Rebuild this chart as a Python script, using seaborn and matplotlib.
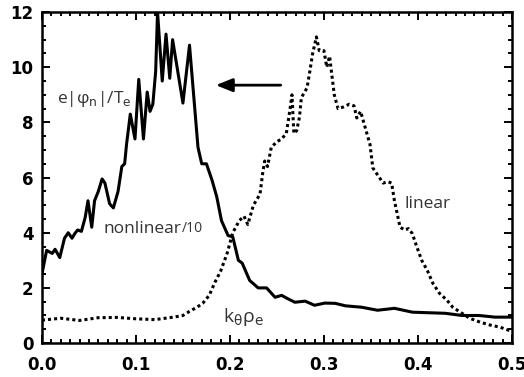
import matplotlib
matplotlib.use("Agg")
import matplotlib.pyplot as plt
from matplotlib.ticker import MultipleLocator
import seaborn as sns

# nonlinear spectrum (divided by 10)
nl_x = [0.000, 0.005, 0.011, 0.014, 0.019, 0.024, 0.028, 0.032, 0.035, 0.038,
        0.042, 0.046, 0.049, 0.053, 0.056, 0.060, 0.064, 0.067, 0.072, 0.076,
        0.081, 0.085, 0.088, 0.090, 0.094, 0.099, 0.103, 0.108, 0.112, 0.115,
        0.118, 0.121, 0.123, 0.128, 0.132, 0.136, 0.139, 0.150, 0.157, 0.166,
        0.170, 0.175, 0.181, 0.186, 0.191, 0.198, 0.203, 0.209, 0.213, 0.221,
        0.230, 0.239, 0.248, 0.255, 0.262, 0.269, 0.280, 0.290, 0.301, 0.312,
        0.323, 0.340, 0.357, 0.375, 0.394, 0.411, 0.429, 0.447, 0.465, 0.482,
        0.500]
nl_y = [2.5, 3.36, 3.25, 3.4, 3.1, 3.8, 4.0, 3.8, 3.97, 4.1,
        4.05, 4.55, 5.16, 4.2, 5.16, 5.5, 5.95, 5.8, 5.05, 4.9,
        5.5, 6.4, 6.5, 7.2, 8.3, 7.4, 9.56, 7.4, 9.1, 8.4,
        8.66, 9.85, 12.0, 9.5, 11.2, 9.6, 11.0, 8.7, 10.8, 7.1,
        6.5, 6.5, 5.9, 5.3, 4.44, 3.9, 3.85, 3.0, 2.9, 2.27,
        2.0, 2.0, 1.66, 1.73, 1.6, 1.48, 1.52, 1.37, 1.45, 1.44,
        1.35, 1.3, 1.19, 1.26, 1.12, 1.1, 1.08, 1.0, 1.0, 0.94,
        0.94]

# linear growth spectrum
lin_x = [0.000, 0.02, 0.04, 0.06, 0.08, 0.10, 0.12, 0.14, 0.15, 0.157,
         0.165, 0.171, 0.178, 0.184, 0.19, 0.197, 0.203, 0.21, 0.215, 0.219,
         0.225, 0.232, 0.235, 0.237, 0.240, 0.244, 0.250, 0.255, 0.260, 0.264,
         0.266, 0.268, 0.271, 0.274, 0.276, 0.282, 0.285, 0.288, 0.292, 0.295,
         0.300, 0.303, 0.306, 0.311, 0.315, 0.320, 0.327, 0.332, 0.335, 0.339,
         0.344, 0.349, 0.352, 0.357, 0.363, 0.368, 0.372, 0.375, 0.381, 0.386,
         0.390, 0.394, 0.399, 0.404, 0.410, 0.416, 0.423, 0.431, 0.437, 0.445,
         0.455, 0.466, 0.477, 0.487, 0.496, 0.500]
lin_y = [0.83, 0.9, 0.82, 0.92, 0.93, 0.88, 0.85, 0.94, 1.0, 1.15,
         1.3, 1.44, 1.73, 2.2, 2.6, 3.25, 4.0, 4.44, 4.6, 4.3,
         5.0, 5.4, 6.2, 6.6, 6.4, 7.1, 7.3, 7.4, 7.6, 8.5,
         9.0, 7.6, 7.7, 8.2, 8.9, 9.25, 9.85, 10.5, 11.1, 10.6,
         10.6, 10.0, 10.4, 9.0, 8.5, 8.55, 8.66, 8.6, 8.16, 8.4,
         7.8, 7.2, 6.35, 6.1, 5.8, 5.85, 5.8, 5.16, 4.2, 4.1,
         4.15, 3.97, 3.47, 3.0, 2.63, 2.16, 1.8, 1.55, 1.3, 1.12,
         0.9, 0.76, 0.65, 0.58, 0.47, 0.45]

x_ticks = [0.0, 0.1, 0.2, 0.3, 0.4, 0.5]
y_ticks = [0, 2, 4, 6, 8, 10, 12]

sns.set_style("ticks")
plt.rcParams["font.family"] = ["Open Sans", "DejaVu Sans"]
plt.rcParams["mathtext.fontset"] = "dejavusans"

fig, ax = plt.subplots(figsize=(5.24, 3.77), dpi=100)
fig.subplots_adjust(left=0.080, right=0.977, top=0.968, bottom=0.090)

sns.lineplot(x=nl_x, y=nl_y, ax=ax, color="black", lw=2.2, sort=False)
sns.lineplot(x=lin_x, y=lin_y, ax=ax, color="black", lw=2.2, sort=False,
             linestyle=(0, (1, 1)))

ax.set_xlim(0, 0.5)
ax.set_ylim(0, 12)
ax.set_xticks(x_ticks)
ax.set_yticks(y_ticks)
ax.set_xticklabels([f"{t:.1f}" for t in x_ticks])
ax.set_yticklabels([str(t) for t in y_ticks])
ax.xaxis.set_minor_locator(MultipleLocator(0.01))
ax.yaxis.set_minor_locator(MultipleLocator(0.5))
ax.tick_params(which="both", direction="in", top=True, right=True, width=1.4,
               colors="black")
ax.tick_params(which="major", length=6)
ax.tick_params(which="minor", length=3)
ax.tick_params(axis="x", pad=9)
ax.tick_params(axis="y", pad=6)
for lab in ax.get_xticklabels() + ax.get_yticklabels():
    lab.set_fontweight("bold")
    lab.set_fontsize(12)
    lab.set_family("DejaVu Sans")
for sp in ax.spines.values():
    sp.set_linewidth(1.8)
    sp.set_color("black")

txt = "#333333"
ax.text(0.016, 8.84, r"e|φ$_\mathrm{n}$|/T$_\mathrm{e}$", fontsize=12.5, color=txt,
        va="center", ha="left")
ax.text(0.065, 4.15, "nonlinear", fontsize=12.5, color=txt, va="center", ha="left")
ax.text(0.149, 4.15, "/10", fontsize=10, color=txt, va="center", ha="left")
ax.text(0.386, 5.05, "linear", fontsize=12.5, color=txt, va="center", ha="left")
ax.text(0.193, 0.94, r"k$_\mathrm{\theta}$ρ$_\mathrm{e}$", fontsize=14, color=txt,
        va="center", ha="left")

ax.annotate("", xy=(0.182, 9.35), xytext=(0.257, 9.35),
            arrowprops=dict(arrowstyle="-|>,head_length=0.5,head_width=0.2",
                            lw=2, color="black", mutation_scale=20))

ax.set_xlabel("")
ax.set_ylabel("")
fig.savefig("out.png", dpi=100)
